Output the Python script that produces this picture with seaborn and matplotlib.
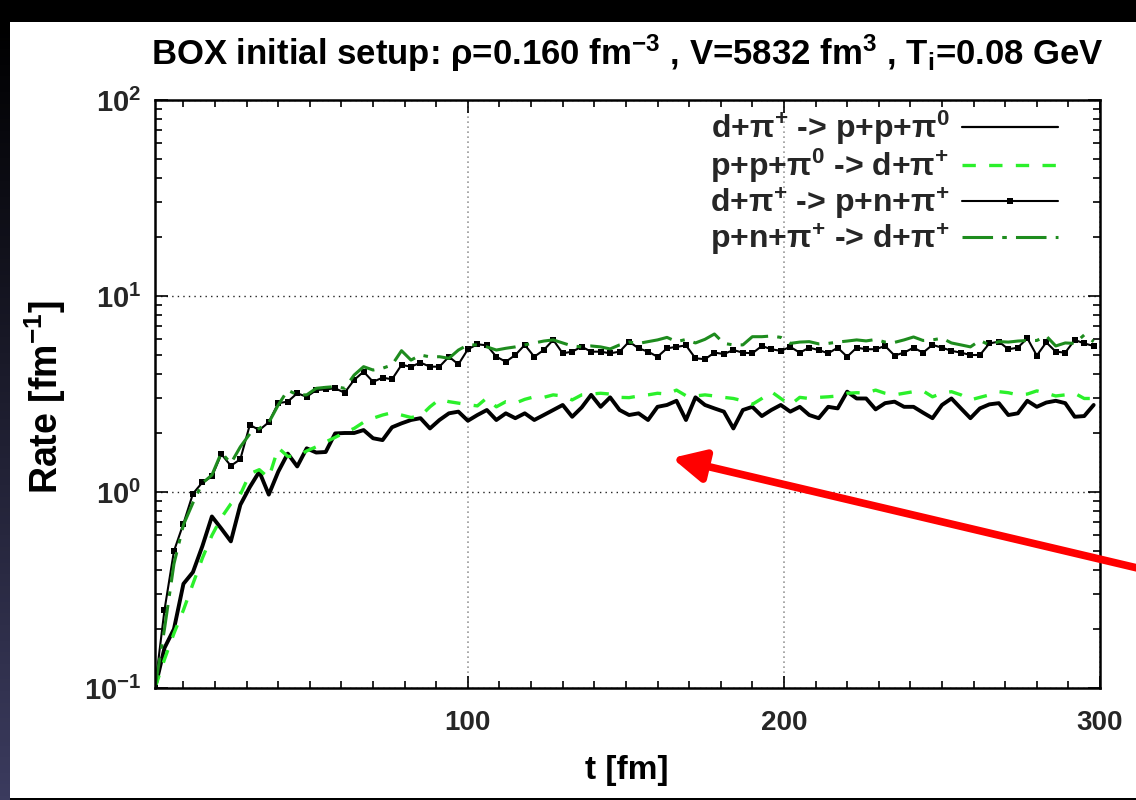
import numpy as np
import pandas as pd
import matplotlib.pyplot as plt
import matplotlib.ticker as mticker
from matplotlib.patches import Rectangle
from matplotlib.colors import LinearSegmentedColormap
import seaborn as sns

sns.set_theme(style='ticks')
plt.rcParams['font.family'] = ['Liberation Sans', 'DejaVu Sans']
plt.rcParams['font.weight'] = 'bold'
plt.rcParams['mathtext.default'] = 'regular'

# time axis, one point every 3 fm
t = np.arange(1, 300, 3)

# d+pi+ -> p+p+pi0
rate_dpi_pppi0 = [
    0.10, 0.16, 0.20, 0.34, 0.39, 0.53, 0.75, 0.65, 0.56, 0.86,
    1.06, 1.27, 0.97, 1.27, 1.57, 1.35, 1.67, 1.59, 1.60, 1.99,
    2.00, 2.00, 2.07, 1.88, 1.84, 2.14, 2.24, 2.33, 2.38, 2.11,
    2.33, 2.52, 2.57, 2.31, 2.47, 2.62, 2.33, 2.52, 2.38, 2.52,
    2.33, 2.47, 2.62, 2.78, 2.42, 2.70, 3.13, 2.72, 3.04, 2.62,
    2.47, 2.52, 2.33, 2.72, 2.78, 2.92, 2.33, 3.04, 2.78, 2.67,
    2.57, 2.11, 2.62, 2.72, 2.44, 2.62, 2.78, 2.57, 2.72, 2.47,
    2.38, 2.72, 2.67, 3.25, 3.00, 3.00, 2.64, 2.84, 2.89, 2.72,
    2.72, 2.54, 2.38, 2.78, 3.00, 2.67, 2.38, 2.67, 2.80, 2.84,
    2.47, 2.52, 2.92, 2.72, 2.86, 2.92, 2.84, 2.42, 2.44, 2.78]

# p+p+pi0 -> d+pi+
rate_pppi0_dpi = [
    0.10, 0.14, 0.19, 0.25, 0.34, 0.46, 0.60, 0.74, 0.87, 0.97,
    1.24, 1.30, 1.18, 1.68, 1.52, 1.52, 1.62, 1.70, 1.80, 1.90,
    2.01, 2.11, 2.27, 2.38, 2.47, 2.54, 2.47, 2.40, 2.44, 2.72,
    2.97, 2.89, 2.84, 2.79, 2.75, 3.02, 2.72, 2.89, 2.84, 2.97,
    3.06, 3.04, 3.13, 3.09, 2.95, 3.13, 3.16, 3.19, 3.16, 3.04,
    3.03, 3.09, 3.13, 3.19, 3.16, 3.31, 3.10, 3.09, 3.13, 3.09,
    3.04, 3.00, 2.92, 2.80, 3.00, 3.25, 3.00, 2.78, 3.04, 3.00,
    3.04, 3.06, 3.09, 3.19, 3.21, 3.20, 3.31, 3.19, 3.13, 3.19,
    3.25, 3.28, 3.06, 3.19, 3.25, 3.13, 2.95, 3.04, 3.13, 3.25,
    3.21, 3.13, 3.16, 3.28, 3.19, 3.09, 3.13, 3.19, 3.00, 3.00]

# d+pi+ -> p+n+pi+
rate_dpi_pnpi = [
    0.10, 0.25, 0.50, 0.69, 0.98, 1.12, 1.20, 1.56, 1.36, 1.47,
    2.20, 2.07, 2.27, 2.84, 2.89, 3.19, 3.06, 3.31, 3.34, 3.38,
    3.21, 3.73, 4.11, 3.65, 3.83, 3.76, 4.45, 4.36, 4.57, 4.36,
    4.36, 4.90, 4.48, 5.35, 5.67, 5.60, 4.90, 4.62, 5.00, 5.63,
    4.90, 5.30, 5.97, 5.10, 5.20, 5.51, 5.20, 5.20, 5.10, 5.20,
    5.85, 5.41, 5.20, 4.90, 5.41, 5.50, 5.60, 4.81, 4.76, 5.14,
    5.06, 5.30, 5.14, 5.10, 5.56, 5.35, 5.25, 5.50, 5.14, 5.45,
    5.30, 5.10, 5.45, 4.90, 5.45, 5.35, 5.35, 5.56, 4.97, 5.14,
    5.45, 5.14, 5.63, 5.45, 5.25, 5.14, 5.00, 5.00, 5.73, 5.85,
    5.35, 5.45, 6.09, 4.97, 5.80, 5.20, 5.14, 5.97, 5.73, 5.56]

# p+n+pi+ -> d+pi+
rate_pnpi_dpi = [
    0.10, 0.20, 0.43, 0.68, 0.88, 1.11, 1.22, 1.59, 1.40, 1.70,
    1.98, 2.11, 2.26, 2.78, 3.31, 3.13, 3.13, 3.38, 3.42, 3.45,
    3.38, 3.95, 4.36, 4.19, 4.28, 4.45, 5.26, 4.71, 5.00, 4.89,
    4.90, 4.81, 5.30, 5.63, 5.63, 5.50, 5.30, 5.41, 5.50, 5.63,
    5.76, 5.89, 5.97, 5.76, 5.56, 5.50, 5.56, 5.50, 5.37, 5.63,
    5.82, 5.73, 5.85, 5.97, 6.15, 5.85, 6.00, 5.76, 6.01, 6.40,
    5.73, 5.63, 5.63, 6.20, 6.20, 6.25, 6.15, 5.73, 5.82, 5.85,
    5.70, 5.73, 5.82, 5.89, 5.97, 5.90, 6.00, 5.82, 5.80, 5.97,
    6.18, 5.93, 5.97, 6.09, 5.76, 5.63, 5.50, 5.93, 5.63, 5.85,
    5.82, 5.89, 5.93, 5.93, 6.25, 5.56, 5.76, 5.73, 6.33, 5.85]

labels = [r'd+π$^{+}$ -> p+p+π$^{0}$',
          r'p+p+π$^{0}$ -> d+π$^{+}$',
          r'd+π$^{+}$ -> p+n+π$^{+}$',
          r'p+n+π$^{+}$ -> d+π$^{+}$']

df = pd.DataFrame({'t': t, 's1': rate_dpi_pppi0, 's2': rate_pppi0_dpi,
                   's3': rate_dpi_pnpi, 's4': rate_pnpi_dpi})

fig = plt.figure(figsize=(11.36, 8.0), dpi=100, facecolor='black')
fig.add_artist(Rectangle((10/1136, 2/800), 1, 776/800, transform=fig.transFigure,
                         facecolor='white', edgecolor='none', zorder=-2))
strip = fig.add_axes([0, 0, 10/1136, 778/800])
strip.imshow(np.linspace(0, 1, 200)[:, None], aspect='auto',
             cmap=LinearSegmentedColormap.from_list('edge', ['#000000', '#3b3b5e']))
strip.axis('off')

ax = fig.add_axes([155/1136, 1 - 688/800, 945/1136, 588/800])
ax.set_facecolor('white')

sns.lineplot(data=df, x='t', y='s1', ax=ax, color='black', lw=2.8,
             label=labels[0], estimator=None)
sns.lineplot(data=df, x='t', y='s2', ax=ax, color='#2bf02b', lw=2.4,
             linestyle=(0, (4, 4)), label=labels[1], estimator=None)
sns.lineplot(data=df, x='t', y='s3', ax=ax, color='black', lw=1.5,
             marker='s', markersize=4.5, markeredgewidth=0,
             label=labels[2], estimator=None)
sns.lineplot(data=df, x='t', y='s4', ax=ax, color='#1e8c1e', lw=2.2,
             linestyle=(0, (10, 3, 1.5, 3)), label=labels[3], estimator=None)

ax.set_yscale('log')
ax.set_xlim(1, 300)
ax.set_ylim(0.1, 100)
ax.set_xlabel('')
ax.set_ylabel('')

ax.xaxis.set_major_locator(mticker.FixedLocator([100, 200, 300]))
ax.xaxis.set_minor_locator(mticker.MultipleLocator(10))
ax.yaxis.set_major_locator(mticker.LogLocator(base=10))
ax.yaxis.set_minor_locator(mticker.LogLocator(base=10, subs=np.arange(2, 10)))
ax.yaxis.set_minor_formatter(mticker.NullFormatter())
ax.tick_params(which='both', direction='in', top=True, right=True,
               color='black', width=1.2)
ax.tick_params(which='major', length=9, labelsize=20, pad=16)
ax.tick_params(which='minor', length=5)
ax.tick_params(axis='y', which='major', pad=10, labelsize=21)
for lab in ax.get_xticklabels() + ax.get_yticklabels():
    lab.set_fontweight('bold')

ax.grid(axis='y', which='major', color='#222222', ls=(0, (1, 3)), lw=1)
ax.grid(axis='x', which='major', color='#999999', ls=(0, (1, 2)), lw=1.2)
for sp in ax.spines.values():
    sp.set_color('black')
    sp.set_linewidth(1.8)

leg = ax.legend(loc='upper right', bbox_to_anchor=(0.9556, 0.985),
                markerfirst=False, frameon=False, fontsize=23,
                handlelength=3.0, handletextpad=0.4, borderpad=0,
                labelspacing=0.0, borderaxespad=0, numpoints=1)
for txt in leg.get_texts():
    txt.set_fontweight('bold')
leg.get_lines()[0].set_linewidth(1.6)

fig.text(0.552, 0.934,
         r'BOX initial setup: ρ=0.160 fm$^{-3}$ , V=5832 fm$^{3}$ , T$_{i}$=0.08 GeV',
         ha='center', va='center', fontsize=25, fontweight='bold', color='black')
fig.text(45/1136, 1 - 397/800, r'Rate [fm$^{-1}$]', rotation=90,
         ha='center', va='center', fontsize=27, fontweight='bold', color='black')
fig.text(0.552, 1 - 770/800, 't [fm]', ha='center', va='center',
         fontsize=24, fontweight='bold', color='black')

ax.annotate('', xy=(672, 342), xycoords='figure pixels',
            xytext=(1150, 229), textcoords='figure pixels',
            arrowprops=dict(arrowstyle='-|>,head_length=1.6,head_width=0.8',
                            color='#ff0000', lw=5.5, shrinkA=0, shrinkB=0),
            annotation_clip=False, zorder=10)

fig.savefig('out.png', dpi=100, facecolor=fig.get_facecolor())
